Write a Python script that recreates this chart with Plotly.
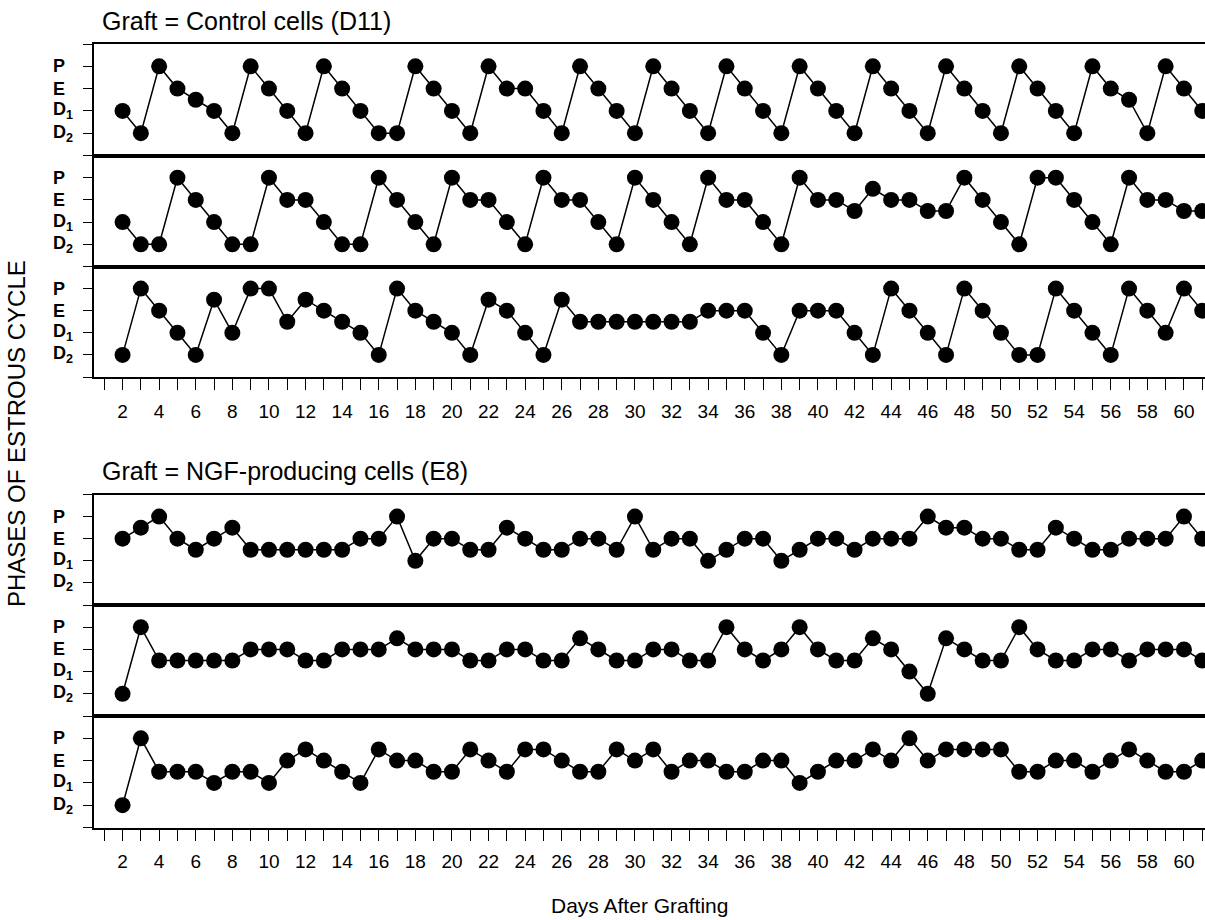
import plotly.graph_objects as go

# ---------------- data (phase codes: D2=1, D1=2, E=3, P=4; halves = between) ----
days = list(range(2, 62))
label_days = list(range(2, 61, 2))
minor_days = list(range(1, 62, 2))
x_tick_labels = [str(d) for d in label_days]
phase_values = [1, 2, 3, 4]
phase_labels = ["D<sub>2</sub>", "D<sub>1</sub>", "E", "P"]

control_1 = [2, 1, 4, 3, 2.5, 2, 1, 4, 3, 2, 1, 4, 3, 2, 1, 1, 4, 3, 2, 1,
             4, 3, 3, 2, 1, 4, 3, 2, 1, 4, 3, 2, 1, 4, 3, 2, 1, 4, 3, 2,
             1, 4, 3, 2, 1, 4, 3, 2, 1, 4, 3, 2, 1, 4, 3, 2.5, 1, 4, 3, 2]
control_2 = [2, 1, 1, 4, 3, 2, 1, 1, 4, 3, 3, 2, 1, 1, 4, 3, 2, 1, 4, 3,
             3, 2, 1, 4, 3, 3, 2, 1, 4, 3, 2, 1, 4, 3, 3, 2, 1, 4, 3, 3,
             2.5, 3.5, 3, 3, 2.5, 2.5, 4, 3, 2, 1, 4, 4, 3, 2, 1, 4, 3, 3, 2.5, 2.5]
control_3 = [1, 4, 3, 2, 1, 3.5, 2, 4, 4, 2.5, 3.5, 3, 2.5, 2, 1, 4, 3, 2.5, 2, 1,
             3.5, 3, 2, 1, 3.5, 2.5, 2.5, 2.5, 2.5, 2.5, 2.5, 2.5, 3, 3, 3, 2, 1, 3, 3, 3,
             2, 1, 4, 3, 2, 1, 4, 3, 2, 1, 1, 4, 3, 2, 1, 4, 3, 2, 4, 3]
ngf_1 = [3, 3.5, 4, 3, 2.5, 3, 3.5, 2.5, 2.5, 2.5, 2.5, 2.5, 2.5, 3, 3, 4, 2, 3, 3, 2.5,
         2.5, 3.5, 3, 2.5, 2.5, 3, 3, 2.5, 4, 2.5, 3, 3, 2, 2.5, 3, 3, 2, 2.5, 3, 3,
         2.5, 3, 3, 3, 4, 3.5, 3.5, 3, 3, 2.5, 2.5, 3.5, 3, 2.5, 2.5, 3, 3, 3, 4, 3]
ngf_2 = [1, 4, 2.5, 2.5, 2.5, 2.5, 2.5, 3, 3, 3, 2.5, 2.5, 3, 3, 3, 3.5, 3, 3, 3, 2.5,
         2.5, 3, 3, 2.5, 2.5, 3.5, 3, 2.5, 2.5, 3, 3, 2.5, 2.5, 4, 3, 2.5, 3, 4, 3, 2.5,
         2.5, 3.5, 3, 2, 1, 3.5, 3, 2.5, 2.5, 4, 3, 2.5, 2.5, 3, 3, 2.5, 3, 3, 3, 2.5]
ngf_3 = [1, 4, 2.5, 2.5, 2.5, 2, 2.5, 2.5, 2, 3, 3.5, 3, 2.5, 2, 3.5, 3, 3, 2.5, 2.5, 3.5,
         3, 2.5, 3.5, 3.5, 3, 2.5, 2.5, 3.5, 3, 3.5, 2.5, 3, 3, 2.5, 2.5, 3, 3, 2, 2.5, 3,
         3, 3.5, 3, 4, 3, 3.5, 3.5, 3.5, 3.5, 2.5, 2.5, 3, 3, 2.5, 3, 3.5, 3, 2.5, 2.5, 3]

series = [control_1, control_2, control_3, ngf_1, ngf_2, ngf_3]
titles = ["Graft = Control cells (D11)", "Graft = NGF-producing cells (E8)"]

# ---------------- layout ----------------
W, H, L = 1205, 920, 94
FONT = "Liberation Sans, Arial, Helvetica, sans-serif"
panel_px = [(44, 155.5), (155.5, 266.5), (266.5, 377), (494.5, 605), (605, 716), (716, 827.5)]
bottom_panels = {3, 6}

fig = go.Figure()
layout = {}
annotations = []

def px_x(p):
    return (p - L) / (W - L)

def px_y(p):
    return 1 - p / H

for i, (vals, (top, bot)) in enumerate(zip(series, panel_px)):
    n = i + 1
    xa = "x" if n == 1 else f"x{n}"
    ya = "y" if n == 1 else f"y{n}"
    fig.add_trace(go.Scatter(
        x=days, y=vals, mode="lines+markers", xaxis=xa, yaxis=ya,
        line=dict(color="black", width=1.5),
        marker=dict(color="black", size=16),
        showlegend=False, hoverinfo="skip"))
    is_bottom = n in bottom_panels
    xdict = dict(
        domain=[0, 1], range=[0.44, 61.15], anchor=ya,
        showline=True, mirror=True, linecolor="black", linewidth=2,
        ticks="outside" if is_bottom else "", ticklen=11, tickwidth=1.3, tickcolor="black",
        showgrid=False, zeroline=False, fixedrange=True)
    if is_bottom:
        xdict.update(tickmode="array", tickvals=label_days, ticktext=x_tick_labels,
                     showticklabels=True, ticklabelstandoff=5,
                     tickfont=dict(family=FONT, size=19, color="black"))
        xdict["minor"] = dict(ticks="outside", ticklen=11, tickwidth=1.3, tickcolor="black",
                              tickmode="array", tickvals=minor_days, showgrid=False)
    else:
        xdict.update(showticklabels=False)
    layout["xaxis" if n == 1 else f"xaxis{n}"] = xdict
    layout["yaxis" if n == 1 else f"yaxis{n}"] = dict(
        domain=[px_y(bot), px_y(top)], range=[0, 5], anchor=xa,
        showline=True, linecolor="black", linewidth=2,
        ticks="outside", ticklen=9, tickwidth=1.3, tickcolor="black",
        tickvals=[0, 1, 2, 3, 4, 5], showticklabels=False,
        showgrid=False, zeroline=False, fixedrange=True)
    for v, lab in zip(phase_values, phase_labels):
        annotations.append(dict(
            text=lab, x=px_x(51), xref="paper", xanchor="left",
            y=v, yref=ya, yanchor="middle", showarrow=False,
            font=dict(family=FONT, size=18, color="black", weight="bold")))

annotations.append(dict(text=titles[0], x=px_x(100), y=px_y(21), xref="paper", yref="paper",
                        xanchor="left", yanchor="middle", showarrow=False,
                        font=dict(family=FONT, size=25, color="black")))
annotations.append(dict(text=titles[1], x=px_x(100), y=px_y(471), xref="paper", yref="paper",
                        xanchor="left", yanchor="middle", showarrow=False,
                        font=dict(family=FONT, size=25, color="black")))
annotations.append(dict(text="Days After Grafting", x=px_x(639), y=px_y(905), xref="paper", yref="paper",
                        xanchor="center", yanchor="middle", showarrow=False,
                        font=dict(family=FONT, size=21, color="black")))
annotations.append(dict(text="PHASES OF ESTROUS CYCLE", x=px_x(16), y=px_y(434), xref="paper", yref="paper",
                        xanchor="center", yanchor="middle", showarrow=False, textangle=-90,
                        font=dict(family=FONT, size=24, color="black")))

fig.update_layout(
    width=W, height=H,
    margin=dict(l=L, r=0, t=0, b=0),
    paper_bgcolor="white", plot_bgcolor="white",
    annotations=annotations, showlegend=False, hovermode=False,
    **layout)

fig.write_html("out.html", config={"displayModeBar": False},
               post_script="document.body.style.margin='0px';document.body.style.overflow='hidden';")
